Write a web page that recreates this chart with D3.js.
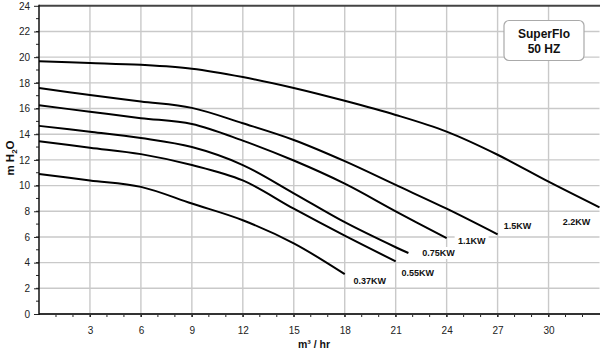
<!DOCTYPE html>
<html><head><meta charset="utf-8">
<script src="https://cdn.jsdelivr.net/npm/d3@7"></script>
<style>
html,body{margin:0;padding:0;background:#fff;}
svg{display:block;font-family:"Liberation Sans",Arial,sans-serif;}
</style></head>
<body><svg id="chart" width="600" height="350"></svg>
<script>
// ---- data ----
const seriesNames = ["0.37KW", "0.55KW", "0.75KW", "1.1KW", "1.5KW", "2.2KW"];
const flow037 = [0, 3, 6, 9, 12, 15, 18];
const head037 = [10.9, 10.4, 9.9, 8.6, 7.3, 5.5, 3.1];
const flow055 = [0, 3, 6, 9, 12, 15, 18, 21];
const head055 = [13.45, 12.95, 12.45, 11.6, 10.4, 8.2, 6.1, 4.1];
const flow075 = [0, 3, 6, 9, 12, 15, 18, 21, 21.75];
const head075 = [14.65, 14.2, 13.7, 13.0, 11.6, 9.4, 7.15, 5.2, 4.75];
const flow11 = [0, 3, 6, 9, 12, 15, 18, 21, 24];
const head11 = [16.25, 15.75, 15.25, 14.8, 13.5, 11.95, 10.15, 8.0, 5.9];
const flow15 = [0, 3, 6, 9, 12, 15, 18, 21, 24, 27];
const head15 = [17.6, 17.05, 16.55, 16.05, 14.85, 13.55, 11.9, 10.05, 8.2, 6.2];
const flow22 = [0, 3, 6, 9, 12, 15, 18, 21, 24, 27, 30, 33];
const head22 = [19.68, 19.55, 19.4, 19.1, 18.45, 17.6, 16.6, 15.5, 14.2, 12.4, 10.3, 8.3];
const xTicks = [3, 6, 9, 12, 15, 18, 21, 24, 27, 30];
const yTicks = [0, 2, 4, 6, 8, 10, 12, 14, 16, 18, 20, 22, 24];
const titleLines = ["SuperFlo", "50 HZ"];
const xTitle = "m\u00B3 / hr";

const allFlows = [flow037, flow055, flow075, flow11, flow15, flow22];
const allHeads = [head037, head055, head075, head11, head15, head22];
const series = seriesNames.map((n, i) => ({
  name: n,
  pts: allFlows[i].map((f, j) => [f, allHeads[i][j]])
}));

// label offsets (px) from each curve's end point
const labelOffsets = [[25, 7], [22, 11], [30, 0], [25, 3], [20, -9], [-23, 14]];

// ---- layout ----
const svg = d3.select("#chart");
const x = d3.scaleLinear().domain([0, 33]).range([39, 599.5]);
const y = d3.scaleLinear().domain([0, 24]).range([314, 5.8]);

// grid
const grid = svg.append("g");
grid.selectAll("line.v").data(xTicks).join("line")
  .attr("x1", d => x(d)).attr("x2", d => x(d))
  .attr("y1", y(0)).attr("y2", y(24))
  .attr("stroke", "#c9c9c9").attr("stroke-width", 1.4);
grid.selectAll("line.h").data(yTicks.filter(d => d > 0 && d < 24)).join("line")
  .attr("x1", x(0)).attr("x2", x(33))
  .attr("y1", d => y(d)).attr("y2", d => y(d))
  .attr("stroke", "#c9c9c9").attr("stroke-width", 1.4);

// top border
svg.append("line").attr("x1", x(0)).attr("x2", 600).attr("y1", y(24)).attr("y2", y(24))
  .attr("stroke", "#444").attr("stroke-width", 2);

// minor ticks
const minorX = d3.range(1, 33);
svg.append("g").selectAll("line").data(minorX).join("line")
  .attr("x1", d => x(d)).attr("x2", d => x(d))
  .attr("y1", y(0)).attr("y2", y(0) + 3)
  .attr("stroke", "#222").attr("stroke-width", 1);
const minorY = d3.range(1, 24);
svg.append("g").selectAll("line").data(minorY).join("line")
  .attr("x1", x(0) - 3).attr("x2", x(0))
  .attr("y1", d => y(d)).attr("y2", d => y(d))
  .attr("stroke", "#222").attr("stroke-width", 1);

// axes
const xAxis = svg.append("g").attr("transform", `translate(0,${y(0)})`)
  .call(d3.axisBottom(x).tickValues(xTicks).tickSize(3).tickPadding(10));
const yAxis = svg.append("g").attr("transform", `translate(${x(0)},0)`)
  .call(d3.axisLeft(y).tickValues(yTicks).tickSize(5).tickPadding(4));
[xAxis, yAxis].forEach(a => {
  a.select(".domain").remove();
  a.selectAll("text").attr("font-family", "Liberation Sans, Arial, sans-serif")
    .attr("font-size", 10).attr("fill", "#222");
  a.selectAll("line").attr("stroke", "#222");
});
svg.append("line").attr("x1", x(0)).attr("x2", 600).attr("y1", y(0)).attr("y2", y(0))
  .attr("stroke", "#333").attr("stroke-width", 2);
svg.append("line").attr("x1", x(0)).attr("x2", x(0)).attr("y1", y(0) + 1).attr("y2", y(24) - 1)
  .attr("stroke", "#111").attr("stroke-width", 1.5);

// curves
const line = d3.line().x(d => x(d[0])).y(d => y(d[1])).curve(d3.curveCatmullRom.alpha(0.5));
svg.append("g").selectAll("path").data(series).join("path")
  .attr("d", d => line(d.pts))
  .attr("fill", "none").attr("stroke", "#000").attr("stroke-width", 2);

// curve labels
const lbl = svg.append("g").selectAll("g").data(series).join("g")
  .attr("transform", (d, i) => {
    const e = d.pts[d.pts.length - 1];
    return `translate(${x(e[0]) + labelOffsets[i][0]},${y(e[1]) + labelOffsets[i][1]})`;
  });
lbl.append("rect").attr("x", -17).attr("y", -6).attr("width", 34).attr("height", 12)
  .attr("fill", "#fff");
lbl.append("text").text(d => d.name)
  .attr("text-anchor", "middle").attr("dy", "0.35em")
  .attr("font-size", 9).attr("font-weight", "bold").attr("fill", "#111");

// title box
const tb = svg.append("g");
tb.append("rect").attr("x", 504).attr("y", 20.5).attr("width", 80).attr("height", 40)
  .attr("rx", 5).attr("fill", "#fff").attr("stroke", "#aaa").attr("stroke-width", 1.2);
tb.selectAll("text").data(titleLines).join("text")
  .attr("x", 544).attr("y", (d, i) => 34 + i * 14.5)
  .attr("dy", "0.35em").attr("text-anchor", "middle")
  .attr("font-size", 12).attr("font-weight", "bold").attr("fill", "#111")
  .text(d => d);

// axis titles
svg.append("text").attr("x", 314).attr("y", 344).attr("dy", "0.35em")
  .attr("text-anchor", "middle").attr("font-size", 10.5).attr("font-weight", "bold")
  .attr("fill", "#111").text(xTitle);
const yt = svg.append("text").attr("transform", "translate(10,158) rotate(-90)")
  .attr("dy", "0.35em").attr("text-anchor", "middle")
  .attr("font-size", 11.5).attr("font-weight", "bold").attr("fill", "#111");
yt.append("tspan").text("m H");
yt.append("tspan").attr("font-size", 8).attr("dy", "3").text("2");
yt.append("tspan").attr("dy", "-3").text("O");
</script></body></html>
